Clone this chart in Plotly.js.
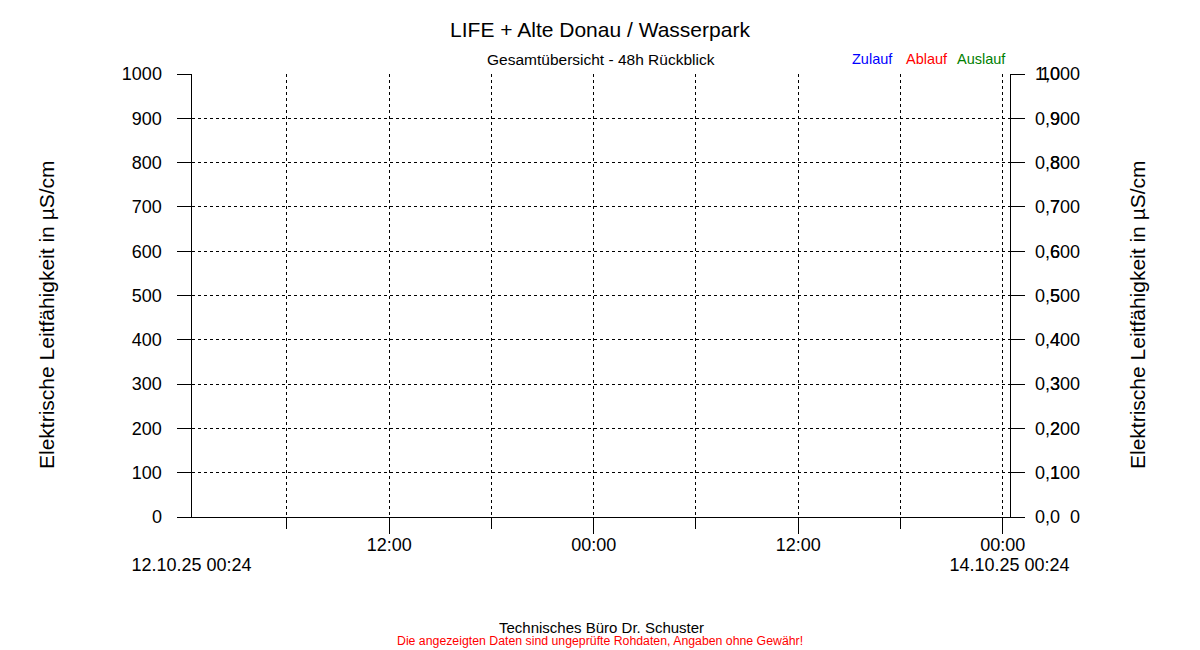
<!DOCTYPE html>
<html>
<head>
<meta charset="utf-8">
<script src="https://cdn.plot.ly/plotly-3.0.1.min.js"></script>
<style>html,body{margin:0;padding:0;background:#fff;}#chart{width:1200px;height:650px;}</style>
</head>
<body>
<div id="chart"></div>
<script>
// ---- data (the reference shows no measured values in the 48h window) ----
var timeRange = ['2025-10-12 00:24', '2025-10-14 00:24'];
var rangeLabels = ['12.10.25 00:24', '14.10.25 00:24'];
var seriesNames = ['Zulauf', 'Ablauf', 'Auslauf'];
var seriesColors = ['#0000FF', '#FF0000', '#008000'];
var zulaufTimes = [], zulaufValues = [];
var ablaufTimes = [], ablaufValues = [];
var auslaufTimes = [], auslaufValues = [];
var leftTicks = [0, 100, 200, 300, 400, 500, 600, 700, 800, 900, 1000];
var ratioTicks = [0, 0.1, 0.2, 0.3, 0.4, 0.5, 0.6, 0.7, 0.8, 0.9, 1.0];
var ratioLabels = ['0,0', '0,1', '0,2', '0,3', '0,4', '0,5', '0,6', '0,7', '0,8', '0,9', '1,0'];

var W = 1200, H = 650;
var FONT = 'Liberation Sans, Arial, sans-serif';
function px(x) { return x / W; }
function py(y) { return (H - y) / H; }

var traces = [
  {x: zulaufTimes, y: zulaufValues, name: seriesNames[0], mode: 'lines', line: {color: seriesColors[0]}, xaxis: 'x', yaxis: 'y'},
  {x: ablaufTimes, y: ablaufValues, name: seriesNames[1], mode: 'lines', line: {color: seriesColors[1]}, xaxis: 'x', yaxis: 'y'},
  {x: auslaufTimes, y: auslaufValues, name: seriesNames[2], mode: 'lines', line: {color: seriesColors[2]}, xaxis: 'x', yaxis: 'y'},
  // empty carriers so the secondary axes get drawn
  {x: timeRange, y: [null, null], mode: 'lines', hoverinfo: 'skip', xaxis: 'x', yaxis: 'y2'},
  {x: timeRange, y: [null, null], mode: 'lines', hoverinfo: 'skip', xaxis: 'x', yaxis: 'y3'},
  {x: timeRange, y: [null, null], mode: 'lines', hoverinfo: 'skip', xaxis: 'x2', yaxis: 'y'}
];

var tickFont = {family: FONT, size: 18, color: '#000'};
var GRID = {gridcolor: '#000', gridwidth: 1, griddash: '3px,3px'};

var layout = {
  width: W, height: H,
  margin: {l: 0, r: 0, t: 0, b: 0},
  paper_bgcolor: '#fff', plot_bgcolor: '#fff',
  showlegend: false,
  font: {family: FONT, color: '#000'},
  title: {text: 'LIFE + Alte Donau / Wasserpark', font: {family: FONT, size: 21, color: '#000'},
          x: 0.5, xanchor: 'center', y: py(30), yanchor: 'middle', yref: 'container'},
  xaxis: {
    type: 'date', domain: [px(191.5), px(1009.5)], range: timeRange, anchor: 'y',
    tick0: '2025-10-12 12:00', dtick: 43200000, tickformat: '%H:%M',
    ticks: 'outside', ticklen: 16, tickwidth: 1, tickcolor: '#000', tickfont: tickFont,
    showline: true, linecolor: '#000', linewidth: 1, zeroline: false,
    showgrid: true, gridcolor: GRID.gridcolor, gridwidth: 1, griddash: GRID.griddash,
    ticklabelstandoff: -5,
    minor: {tick0: '2025-10-12 06:00', dtick: 21600000, ticks: 'outside', ticklen: 11, tickwidth: 1, tickcolor: '#000',
            showgrid: true, gridcolor: GRID.gridcolor, gridwidth: 1, griddash: GRID.griddash}
  },
  xaxis2: {
    type: 'date', overlaying: 'x', side: 'bottom', anchor: 'free', position: py(551.5),
    range: timeRange, tickmode: 'array', tickvals: timeRange, ticktext: rangeLabels,
    ticks: '', showline: false, showgrid: false, zeroline: false, tickfont: tickFont
  },
  yaxis: {
    domain: [py(517), py(74)], range: [0, 1000], anchor: 'x',
    tickmode: 'array', tickvals: leftTicks,
    ticks: 'outside', ticklen: 14, tickwidth: 1, tickcolor: '#000', tickfont: tickFont,
    showline: true, linecolor: '#000', linewidth: 1, zeroline: false,
    showgrid: true, gridcolor: GRID.gridcolor, gridwidth: 1, griddash: GRID.griddash,
    ticklabelstandoff: 11
  },
  yaxis2: {
    overlaying: 'y', side: 'right', anchor: 'x', range: [0, 1],
    tickmode: 'array', tickvals: ratioTicks, ticktext: ratioLabels,
    ticks: 'outside', ticklen: 14, tickwidth: 1, tickcolor: '#000', tickfont: tickFont,
    showline: true, linecolor: '#000', linewidth: 1, zeroline: false, showgrid: false,
    ticklabelstandoff: 7
  },
  yaxis3: {
    overlaying: 'y', side: 'left', anchor: 'free', position: px(1080), range: [0, 1000],
    tickmode: 'array', tickvals: leftTicks,
    ticks: '', tickfont: tickFont,
    showline: false, zeroline: false, showgrid: false
  },
  annotations: [
    {text: 'Gesamtübersicht - 48h Rückblick', xref: 'paper', yref: 'paper', x: px(601), y: py(59), xanchor: 'center', yanchor: 'middle', showarrow: false, font: {family: FONT, size: 15.5, color: '#000'}},
    {text: seriesNames[0], xref: 'paper', yref: 'paper', x: px(849.5), y: py(59), xanchor: 'left', yanchor: 'middle', showarrow: false, font: {family: FONT, size: 14.5, color: seriesColors[0]}},
    {text: seriesNames[1], xref: 'paper', yref: 'paper', x: px(904), y: py(59), xanchor: 'left', yanchor: 'middle', showarrow: false, font: {family: FONT, size: 14.5, color: seriesColors[1]}},
    {text: seriesNames[2], xref: 'paper', yref: 'paper', x: px(954.5), y: py(59), xanchor: 'left', yanchor: 'middle', showarrow: false, font: {family: FONT, size: 14.5, color: seriesColors[2]}},
    {text: 'Elektrische Leitfähigkeit in µS/cm', xref: 'paper', yref: 'paper', x: px(46), y: py(315), xanchor: 'center', yanchor: 'middle', textangle: -90, showarrow: false, font: {family: FONT, size: 21, color: '#000'}},
    {text: 'Elektrische Leitfähigkeit in µS/cm', xref: 'paper', yref: 'paper', x: px(1137), y: py(315), xanchor: 'center', yanchor: 'middle', textangle: -90, showarrow: false, font: {family: FONT, size: 21, color: '#000'}},
    {text: 'Technisches Büro Dr. Schuster', xref: 'paper', yref: 'paper', x: px(601), y: py(627), xanchor: 'center', yanchor: 'middle', showarrow: false, font: {family: FONT, size: 15, color: '#000'}},
    {text: 'Die angezeigten Daten sind ungeprüfte Rohdaten, Angaben ohne Gewähr!', xref: 'paper', yref: 'paper', x: px(600), y: py(641), xanchor: 'center', yanchor: 'middle', showarrow: false, font: {family: FONT, size: 12.3, color: '#FF0000'}}
  ]
};

Plotly.newPlot('chart', traces, layout, {staticPlot: true, displayModeBar: false});
</script>
</body>
</html>
